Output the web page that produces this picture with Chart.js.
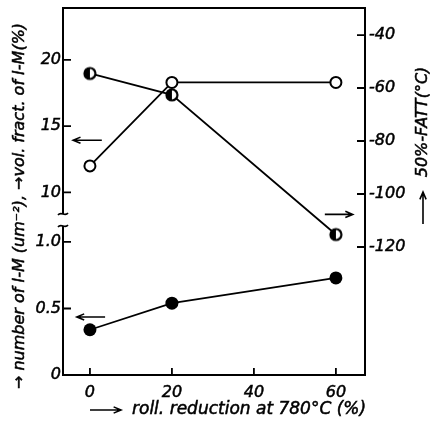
<!DOCTYPE html>
<html>
<head>
<meta charset="utf-8">
<script src="https://cdn.jsdelivr.net/npm/chart.js@4.4.1/dist/chart.umd.min.js"></script>
<style>
  html, body { margin: 0; padding: 0; background: #fff; }
</style>
</head>
<body>
<canvas id="chart" width="440" height="422"></canvas>
<script>
// values
const reduction = [0, 20, 60];              // roll. reduction at 780°C (%)
const volFraction = [12.0, 18.3, 18.3];     // vol. fract. of I-M (%)  -> open circles
const numberIM = [0.34, 0.54, 0.73];        // number of I-M (um^-2)   -> filled circles
const fatt = [-54.5, -62.6, -115.3];        // 50%-FATT (°C)           -> half filled circles

const xTicks = [0, 20, 40, 60];
const volTicks = [10, 15, 20];
const numTicks = [0, 0.5, 1.0];
const fattTicks = [-40, -60, -80, -100, -120];

const FONT = "DejaVu Sans";
const tickFont = { family: FONT, style: "italic", size: 16 };
const tickStyle = { font: tickFont, color: "#000", textStrokeColor: "#000", textStrokeWidth: 0.5 };

function halfDot(r) {
    const c = document.createElement("canvas");
    const s = Math.ceil(r * 2 + 4);
    c.width = c.height = s;
    const g = c.getContext("2d");
    const m = s / 2;
    g.fillStyle = "#fff";
    g.beginPath(); g.arc(m, m, r, 0, Math.PI * 2); g.fill();
    g.fillStyle = "#000";
    g.beginPath(); g.arc(m, m, r, Math.PI / 2, Math.PI * 1.5); g.closePath(); g.fill();
    g.lineWidth = 2.2; g.strokeStyle = "#000";
    g.beginPath(); g.arc(m, m, r - 0.5, 0, Math.PI * 2); g.stroke();
    return c;
}

const pts = (ys) => reduction.map((x, i) => ({ x: x, y: ys[i] }));
const fixTicks = (list) => (s) => { s.ticks = list.map(v => ({ value: v })); };
const noPad = (s) => { s.paddingTop = 0; s.paddingBottom = 0; s.paddingLeft = 0; s.paddingRight = 0; };

function arrow(ctx, x1, y1, x2, y2) {
    const ang = Math.atan2(y2 - y1, x2 - x1);
    ctx.beginPath();
    ctx.moveTo(x1, y1); ctx.lineTo(x2, y2);
    ctx.moveTo(x2 - 8 * Math.cos(ang - 0.4), y2 - 8 * Math.sin(ang - 0.4));
    ctx.lineTo(x2, y2);
    ctx.lineTo(x2 - 8 * Math.cos(ang + 0.4), y2 - 8 * Math.sin(ang + 0.4));
    ctx.stroke();
}

function label(ctx, text, x, y) {
    ctx.fillText(text, x, y);
    ctx.strokeText(text, x, y);
}

const frame = {
    id: "frame",
    afterDraw(chart) {
        const { ctx, chartArea: a, scales } = chart;
        const brk = scales.yVol.bottom;
        ctx.save();
        ctx.strokeStyle = "#000";
        ctx.lineWidth = 2;
        ctx.lineCap = "butt";
        // box
        ctx.beginPath();
        ctx.moveTo(a.left, brk - 6); ctx.lineTo(a.left, a.top);
        ctx.lineTo(a.right, a.top); ctx.lineTo(a.right, a.bottom);
        ctx.lineTo(a.left, a.bottom); ctx.lineTo(a.left, brk + 6);
        ctx.stroke();
        // axis break marks
        ctx.lineWidth = 1.6;
        [brk - 6, brk + 6].forEach(y => {
            ctx.beginPath();
            ctx.moveTo(a.left - 5, y + 1);
            ctx.bezierCurveTo(a.left - 2, y - 3, a.left + 2, y + 3, a.left + 5, y - 1);
            ctx.stroke();
        });
        // inward ticks
        ctx.lineWidth = 1.8;
        ctx.beginPath();
        volTicks.forEach(v => { const y = scales.yVol.getPixelForValue(v); ctx.moveTo(a.left - 1, y); ctx.lineTo(a.left + 8, y); });
        numTicks.slice(1).forEach(v => { const y = scales.yNum.getPixelForValue(v); ctx.moveTo(a.left - 1, y); ctx.lineTo(a.left + 8, y); });
        fattTicks.forEach(v => { const y = scales.yF.getPixelForValue(v); ctx.moveTo(a.right - 8, y); ctx.lineTo(a.right, y); });
        xTicks.forEach(v => { const x = scales.x.getPixelForValue(v); ctx.moveTo(x, a.bottom - 7); ctx.lineTo(x, a.bottom); });
        ctx.stroke();
        // arrows telling which axis each curve belongs to
        ctx.lineWidth = 1.6;
        const X = scales.x;
        arrow(ctx, X.getPixelForValue(2.9), scales.yVol.getPixelForValue(13.94), X.getPixelForValue(-4.1), scales.yVol.getPixelForValue(13.94));
        arrow(ctx, X.getPixelForValue(3.7), scales.yNum.getPixelForValue(0.436), X.getPixelForValue(-3.2), scales.yNum.getPixelForValue(0.436));
        arrow(ctx, X.getPixelForValue(57.3), scales.yF.getPixelForValue(-107.7), X.getPixelForValue(64.1), scales.yF.getPixelForValue(-107.7));
        // axis titles
        ctx.fillStyle = "#000";
        ctx.textBaseline = "middle";
        ctx.textAlign = "left";
        arrow(ctx, 90, 410, 121, 410);
        ctx.lineWidth = 0.5;
        ctx.font = "italic 17px '" + FONT + "'";
        label(ctx, "roll. reduction at 780°C (%)", 132, 410);
        ctx.font = "italic 16px '" + FONT + "'";
        // left
        ctx.save();
        ctx.translate(20, 206);
        ctx.rotate(-Math.PI / 2);
        ctx.textAlign = "center";
        label(ctx, "\u2192 number of I-M (um\u207B\u00B2), \u2192vol. fract. of I-M(%)", 0, 0);
        ctx.restore();
        // right
        ctx.save();
        ctx.translate(423, 122);
        ctx.rotate(-Math.PI / 2);
        ctx.textAlign = "center";
        label(ctx, "50%-FATT(°C)", 0, 0);
        ctx.restore();
        ctx.lineWidth = 1.6;
        arrow(ctx, 423, 224, 423, 192);
        ctx.restore();
    }
};

const lineStyle = { borderColor: "#000", borderWidth: 1.8, pointBorderColor: "#000", tension: 0, fill: false };

new Chart(document.getElementById("chart"), {
    type: "line",
    data: {
        datasets: [
            Object.assign({ data: pts(volFraction), yAxisID: "yVol", pointRadius: 5.5, pointBorderWidth: 2, pointBackgroundColor: "#fff" }, lineStyle),
            Object.assign({ data: pts(numberIM), yAxisID: "yNum", pointRadius: 6.5, pointBorderWidth: 0, pointBackgroundColor: "#000" }, lineStyle),
            Object.assign({ data: pts(fatt), yAxisID: "yF", pointStyle: halfDot(6) }, lineStyle)
        ]
    },
    options: {
        responsive: false,
        animation: false,
        events: [],
        layout: { padding: { top: 8, left: 0, right: 0, bottom: 0 } },
        plugins: { legend: { display: false }, tooltip: { enabled: false } },
        scales: {
            x: {
                type: "linear", min: -6.57, max: 67.1,
                afterBuildTicks: fixTicks(xTicks),
                grid: { display: false, drawTicks: false }, border: { display: false },
                ticks: Object.assign({ padding: 8, maxRotation: 0 }, tickStyle),
                afterFit: (s) => { noPad(s); s.height = 47; }
            },
            // stacked left axis: the first one listed ends up at the bottom
            yNum: {
                type: "linear", position: "left", stack: "left", stackWeight: 155,
                min: 0, max: 1.165,
                afterBuildTicks: fixTicks(numTicks),
                grid: { display: false, drawTicks: false }, border: { display: false },
                ticks: Object.assign({ padding: 2, callback: (v) => v === 0 ? "0" : v.toFixed(1) }, tickStyle),
                afterFit: (s) => { noPad(s); s.width = 63; }
            },
            yVol: {
                type: "linear", position: "left", stack: "left", stackWeight: 212,
                min: 7.92, max: 23.92,
                afterBuildTicks: fixTicks(volTicks),
                grid: { display: false, drawTicks: false }, border: { display: false },
                ticks: Object.assign({ padding: 2 }, tickStyle),
                afterFit: (s) => { noPad(s); s.width = 63; }
            },
            yF: {
                type: "linear", position: "right", min: -168.3, max: -29.8,
                afterBuildTicks: fixTicks(fattTicks),
                grid: { display: false, drawTicks: false }, border: { display: false },
                ticks: Object.assign({ padding: 4 }, tickStyle),
                afterFit: (s) => { noPad(s); s.width = 75; }
            }
        }
    },
    plugins: [frame]
});
</script>
</body>
</html>
